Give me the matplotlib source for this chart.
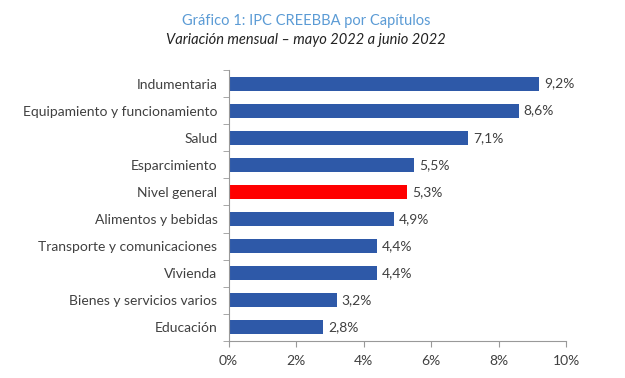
import matplotlib.pyplot as plt
import numpy as np

categorias = ["Indumentaria", "Equipamiento y funcionamiento", "Salud", "Esparcimiento",
              "Nivel general", "Alimentos y bebidas", "Transporte y comunicaciones",
              "Vivienda", "Bienes y servicios varios", "Educación"]
valores = [9.2, 8.6, 7.1, 5.5, 5.3, 4.9, 4.4, 4.4, 3.2, 2.8]
etiquetas = ["9,2%", "8,6%", "7,1%", "5,5%", "5,3%", "4,9%", "4,4%", "4,4%", "3,2%", "2,8%"]

plt.rcParams['font.family'] = ['Lato', 'DejaVu Sans']
gris = '#404040'

fig = plt.figure(figsize=(6.25, 3.78), dpi=100)
ax = fig.add_axes([0.3656, 0.0979, 0.54, 0.7169])

y = np.arange(len(categorias))
colores = ['#FF0000' if c == "Nivel general" else '#2E59A8' for c in categorias]
ax.barh(y, valores, height=0.52, color=colores)

for yi, v, t in zip(y, valores, etiquetas):
    ax.text(v + 0.15, yi, t, va='center', ha='left', fontsize=10, color=gris)

ax.set_xlim(0, 10)
ax.set_ylim(len(categorias) - 0.5, -0.5)
ax.set_yticks(y)
ax.set_yticklabels(categorias, fontsize=10, color=gris)
ax.set_yticks(np.arange(-0.5, len(categorias)), minor=True)
ax.tick_params(axis='y', which='major', length=0, pad=8)
ax.tick_params(axis='y', which='minor', length=4, color='#999999', direction='out')
ax.set_xticks(np.arange(0, 11, 2))
ax.set_xticklabels([f"{v}%" for v in range(0, 11, 2)], fontsize=10, color=gris)
ax.tick_params(axis='x', length=4, color='#999999', pad=6)

for s in ['top', 'right']:
    ax.spines[s].set_visible(False)
for s in ['left', 'bottom']:
    ax.spines[s].set_color('#999999')

fig.text(0.49, 0.945, "Gráfico 1: IPC CREEBBA por Capítulos", ha='center', va='center',
         fontsize=10.5, color='#5B9BD5')
fig.text(0.49, 0.893, "Variación mensual – mayo 2022 a junio 2022", ha='center', va='center',
         fontsize=10.5, color='#222222', style='italic')

fig.savefig('out.png', dpi=100)
